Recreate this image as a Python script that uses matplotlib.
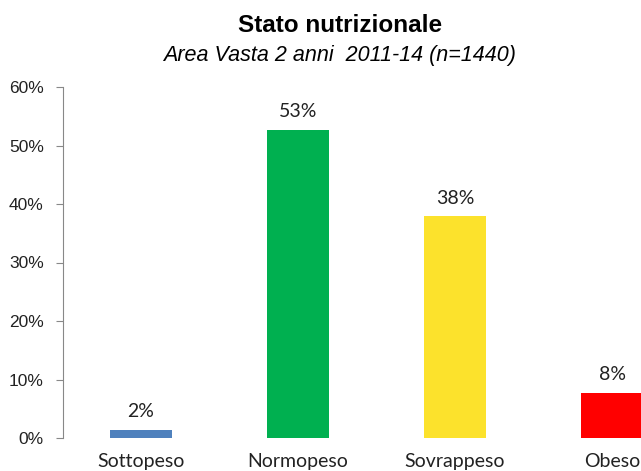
import matplotlib
matplotlib.use("Agg")
import matplotlib.pyplot as plt

categories = ["Sottopeso", "Normopeso", "Sovrappeso", "Obeso"]
values = [1.4, 52.7, 37.9, 7.7]
labels = ["2%", "53%", "38%", "8%"]
colors = ["#4F81BD", "#00B050", "#FCE22C", "#FF0000"]
yticks = [0, 10, 20, 30, 40, 50, 60]

fig = plt.figure(figsize=(6.41, 4.71), dpi=100)
ax = fig.add_axes([62.5/641, 33/471, 628/641, 351/471])
x = list(range(len(categories)))
ax.bar(x, values, width=62/157, color=colors)
ax.set_xlim(-0.5, 3.5)
ax.set_ylim(0, 60)
ax.set_yticks(yticks)
ax.set_yticklabels([f"{v}%" for v in yticks], fontsize=12.5, family="Liberation Sans", color="#222222")
ax.set_xticks(x)
ax.set_xticklabels(categories, fontsize=14, family="Lato", color="#222222")
ax.tick_params(axis="x", length=0, pad=11)
ax.tick_params(axis="y", length=5, color="#888888", pad=8.5)
for s in ["top", "right", "bottom"]:
    ax.spines[s].set_visible(False)
ax.spines["left"].set_color("#888888")
for xi, v, l in zip(x, values, labels):
    ax.annotate(l, (xi, v), xytext=(0, 7), textcoords="offset points", ha="center", va="bottom",
                fontsize=14, family="Lato", color="#222222")
fig.text(340/641, 1 - 25/471, "Stato nutrizionale", ha="center", va="center",
         fontsize=17.5, fontweight="bold", family="Liberation Sans")
fig.text(340/641, 1 - 55/471, "Area Vasta 2 anni  2011-14 (n=1440)", ha="center", va="center",
         fontsize=15.5, style="italic", family="Liberation Sans")
fig.savefig("out.png", dpi=100)
